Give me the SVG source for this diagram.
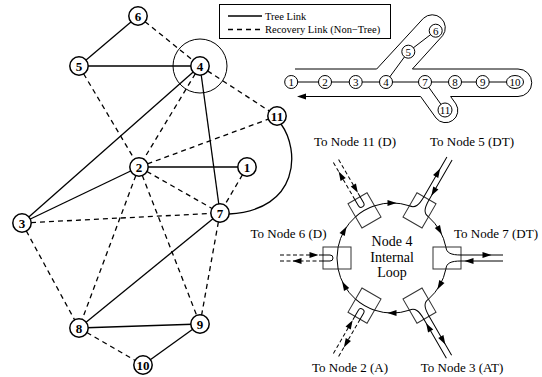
<svg xmlns="http://www.w3.org/2000/svg" width="542" height="377" viewBox="0 0 542 377">
<style>
  .edge{fill:none;stroke:#000;stroke-width:1.3}
  .dash{stroke-dasharray:5 4}
  .gn circle{fill:#fff;stroke:#000;stroke-width:1.5}
  .gn text{font-family:"Liberation Serif",serif;font-weight:bold;font-size:13px;text-anchor:middle}
  .tn circle,.tn ellipse{fill:#fff;stroke:#000;stroke-width:1}
  .tn text{font-family:"Liberation Serif",serif;font-size:11px;text-anchor:middle}
  .lbl{font-family:"Liberation Serif",serif;font-size:13px;text-anchor:middle}
  .center{font-size:14px}
  .leg{font-family:"Liberation Serif",serif;font-size:10.5px}
  .thin{fill:none;stroke:#000;stroke-width:1}
  .box{fill:none;stroke:#333;stroke-width:1}
  .fd{stroke-dasharray:4 2.5}
</style>
<defs>
  <path id="ah" d="M4.5,0 L-4.5,-3 L-4.5,3 Z"/>
</defs>

<!-- ===== Left: network graph ===== -->
<g id="graph-links">
  <g class="edge">
    <path d="M138,16 L79,66"/>
    <path d="M79,66 L200,66"/>
    <path d="M200,66 L22,223"/>
    <path d="M200,66 L220,213"/>
    <path d="M139,167 L247,167"/>
    <path d="M139,167 L22,223"/>
    <path d="M220,213 L79,328"/>
    <path d="M79,328 L200,324"/>
    <path d="M200,324 L143,365"/>
    <path d="M281,124 C300,150 300,210 229,214"/>
  </g>
  <g class="edge dash">
    <path d="M138,16 L200,66"/>
    <path d="M79,66 L139,167"/>
    <path d="M200,66 L139,167"/>
    <path d="M200,66 L277,116"/>
    <path d="M139,167 L277,116"/>
    <path d="M139,167 L220,213"/>
    <path d="M247,167 L220,213"/>
    <path d="M22,223 L220,213"/>
    <path d="M22,223 L79,328"/>
    <path d="M139,167 L79,328"/>
    <path d="M139,167 L200,324"/>
    <path d="M220,213 L200,324"/>
    <path d="M79,328 L143,365"/>
  </g>
  <circle cx="200" cy="66" r="27" class="thin"/>
</g>

<g id="g-n1" class="gn"><circle cx="247" cy="167" r="9.2"/><text x="247" y="171.5">1</text></g>
<g id="g-n2" class="gn"><circle cx="139" cy="167" r="9.2"/><text x="139" y="171.5">2</text></g>
<g id="g-n3" class="gn"><circle cx="22" cy="223" r="9.2"/><text x="22" y="227.5">3</text></g>
<g id="g-n4" class="gn"><circle cx="200" cy="66" r="9.2"/><text x="200" y="70.5">4</text></g>
<g id="g-n5" class="gn"><circle cx="79" cy="66" r="9.2"/><text x="79" y="70.5">5</text></g>
<g id="g-n6" class="gn"><circle cx="138" cy="16" r="9.2"/><text x="138" y="20.5">6</text></g>
<g id="g-n7" class="gn"><circle cx="220" cy="213" r="9.2"/><text x="220" y="217.5">7</text></g>
<g id="g-n8" class="gn"><circle cx="79" cy="328" r="9.2"/><text x="79" y="332.5">8</text></g>
<g id="g-n9" class="gn"><circle cx="200" cy="324" r="9.2"/><text x="200" y="328.5">9</text></g>
<g id="g-n10" class="gn"><circle cx="143" cy="365" r="9.2"/><text x="143" y="369.5">10</text></g>
<g id="g-n11" class="gn"><circle cx="277" cy="116" r="9.2"/><text x="277" y="120.5">11</text></g>

<!-- ===== Legend ===== -->
<g id="legend">
  <rect x="219.5" y="4.5" width="171" height="34" fill="#fff" stroke="#000" stroke-width="1"/>
  <path class="edge" d="M228,16 H262"/>
  <path class="edge dash" d="M228,29.5 H262"/>
  <text class="leg" x="265" y="19.5">Tree Link</text>
  <text class="leg" x="265" y="33">Recovery Link (Non−Tree)</text>
</g>

<!-- ===== Top right: tree with traversal outline ===== -->
<g id="tree-links" class="thin">
  <path d="M291,82 H515"/>
  <path d="M386,82 L408.3,51.7 L435.7,30.7"/>
  <path d="M425,82 L445,110"/>
</g>
<g id="tree-walk" class="thin">
  <path d="M295,69 H376.7 L423.4,18.3 A13,13 0 0 1 442.6,35.7 L412.4,69 H518 A13.75,13.75 0 0 1 518,96.5 H450.6 L455.9,103.9 A12.2,12.2 0 0 1 436.1,118.1 L420.6,96.5 H302"/>
  <use href="#ah" transform="translate(301.5,96.5) rotate(180)" stroke="none" fill="#000"/>
</g>
<g id="t-n1" class="tn"><circle cx="291.2" cy="82" r="6.5"/><text x="291.2" y="85.8">1</text></g>
<g id="t-n2" class="tn"><circle cx="325" cy="82" r="6.5"/><text x="325" y="85.8">2</text></g>
<g id="t-n3" class="tn"><circle cx="355.7" cy="82" r="6.5"/><text x="355.7" y="85.8">3</text></g>
<g id="t-n4" class="tn"><circle cx="386" cy="82" r="6.5"/><text x="386" y="85.8">4</text></g>
<g id="t-n5" class="tn"><circle cx="408.3" cy="51.7" r="6.5"/><text x="408.3" y="55.5">5</text></g>
<g id="t-n6" class="tn"><circle cx="435.7" cy="30.7" r="6.5"/><text x="435.7" y="34.5">6</text></g>
<g id="t-n7" class="tn"><circle cx="425" cy="82" r="6.5"/><text x="425" y="85.8">7</text></g>
<g id="t-n8" class="tn"><circle cx="455" cy="82" r="6.5"/><text x="455" y="85.8">8</text></g>
<g id="t-n9" class="tn"><circle cx="482.7" cy="82" r="6.5"/><text x="482.7" y="85.8">9</text></g>
<g id="t-n10" class="tn"><ellipse cx="515" cy="82" rx="8.5" ry="6.5"/><text x="515" y="85.8">10</text></g>
<g id="t-n11" class="tn"><circle cx="445" cy="110" r="7"/><text x="445" y="113.8">11</text></g>

<!-- ===== Bottom right: node 4 internal loop ===== -->
<g id="loop-ring" class="thin">
  <path d="M374.55,205.84 A55,55 0 0 1 409.45,205.84"/>
  <path d="M428.44,216.81 A55,55 0 0 1 445.89,247.03"/>
  <path d="M445.89,268.97 A55,55 0 0 1 428.44,299.19"/>
  <path d="M409.45,310.16 A55,55 0 0 1 374.55,310.16"/>
  <path d="M355.56,299.19 A55,55 0 0 1 338.11,268.97"/>
  <path d="M338.11,247.03 A55,55 0 0 1 355.56,216.81"/>
</g>
<g id="loop-arrows">
  <use href="#ah" transform="translate(392,203)"/>
  <use href="#ah" transform="translate(439.63,230.5) rotate(60)"/>
  <use href="#ah" transform="translate(439.63,285.5) rotate(120)"/>
  <use href="#ah" transform="translate(392,313) rotate(180)"/>
  <use href="#ah" transform="translate(344.37,285.5) rotate(240)"/>
  <use href="#ah" transform="translate(344.37,230.5) rotate(300)"/>
</g>

<!-- ports: local x points outward, local y follows the loop direction -->
<g id="port-n11" transform="translate(364.5,210.37) rotate(-120)">
  <rect class="box" x="-14" y="-11" width="28" height="22"/>
  <path class="thin" d="M-1.1,-11 A55,55 0 0 1 -1.1,11"/>
  <path class="thin" d="M14,-3 H7 A3,3 0 0 0 7,3 H14"/>
  <path class="thin fd" d="M14,-3 H58 M14,3 H58"/>
  <use href="#ah" transform="translate(42,-3)"/>
  <use href="#ah" transform="translate(23,3) rotate(180)"/>
</g>
<g id="port-n5" transform="translate(419.5,210.37) rotate(-60)">
  <rect class="box" x="-14" y="-11" width="28" height="22"/>
  <path class="thin" d="M-1.1,-11 C-0.6,-5 4,-3 14,-3 H60 M60,3 H14 C4,3 -0.6,5 -1.1,11"/>
  <use href="#ah" transform="translate(42,-3)"/>
  <use href="#ah" transform="translate(23,3) rotate(180)"/>
</g>
<g id="port-n7" transform="translate(447,258)">
  <rect class="box" x="-14" y="-11" width="28" height="22"/>
  <path class="thin" d="M-1.1,-11 C-0.6,-5 4,-3 14,-3 H56 M56,3 H14 C4,3 -0.6,5 -1.1,11"/>
  <use href="#ah" transform="translate(40,-3)"/>
  <use href="#ah" transform="translate(22,3) rotate(180)"/>
</g>
<g id="port-n3" transform="translate(419.5,305.63) rotate(60)">
  <rect class="box" x="-14" y="-11" width="28" height="22"/>
  <path class="thin" d="M-1.1,-11 C-0.6,-5 4,-3 14,-3 H59 M59,3 H14 C4,3 -0.6,5 -1.1,11"/>
  <use href="#ah" transform="translate(42,-3)"/>
  <use href="#ah" transform="translate(23,3) rotate(180)"/>
</g>
<g id="port-n2" transform="translate(364.5,305.63) rotate(120)">
  <rect class="box" x="-14" y="-11" width="28" height="22"/>
  <path class="thin" d="M-1.1,-11 A55,55 0 0 1 -1.1,11"/>
  <path class="thin" d="M14,-3 H7 A3,3 0 0 0 7,3 H14"/>
  <path class="thin fd" d="M14,-3 H58 M14,3 H58"/>
  <use href="#ah" transform="translate(42,-3)"/>
  <use href="#ah" transform="translate(23,3) rotate(180)"/>
</g>
<g id="port-n6" transform="translate(337,258) rotate(180)">
  <rect class="box" x="-14" y="-11" width="28" height="22"/>
  <path class="thin" d="M-1.1,-11 A55,55 0 0 1 -1.1,11"/>
  <path class="thin" d="M14,-3 H7 A3,3 0 0 0 7,3 H14"/>
  <path class="thin fd" d="M14,-3 H58 M14,3 H58"/>
  <use href="#ah" transform="translate(40,-3)"/>
  <use href="#ah" transform="translate(23,3) rotate(180)"/>
</g>

<g id="loop-labels">
  <text class="lbl" x="355" y="146">To Node 11 (D)</text>
  <text class="lbl" x="472" y="146">To Node 5 (DT)</text>
  <text class="lbl" x="288.5" y="238">To Node 6 (D)</text>
  <text class="lbl" x="496" y="238">To Node 7 (DT)</text>
  <text class="lbl center" x="392" y="246">Node 4</text>
  <text class="lbl center" x="392" y="261.5">Internal</text>
  <text class="lbl center" x="392" y="277">Loop</text>
  <text class="lbl" x="350" y="372">To Node 2 (A)</text>
  <text class="lbl" x="462" y="372">To Node 3 (AT)</text>
</g>
</svg>
